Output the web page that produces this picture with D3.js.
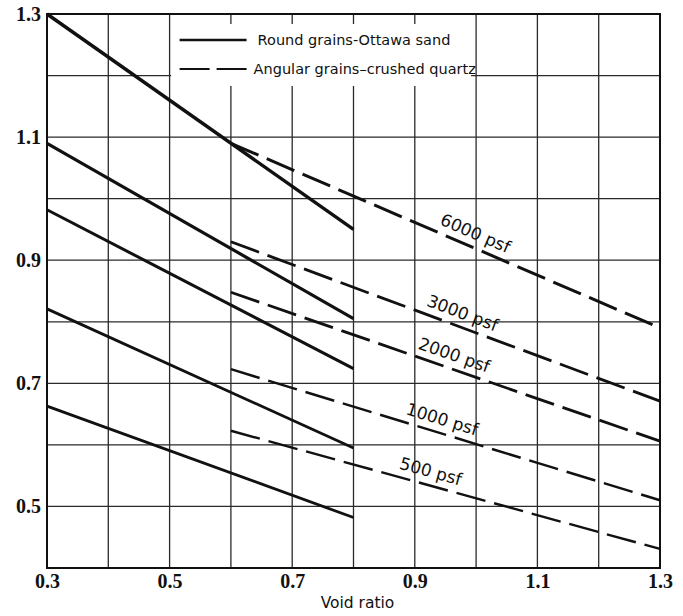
<!DOCTYPE html>
<html>
<head>
<meta charset="utf-8">
<script src="https://cdn.jsdelivr.net/npm/d3@7/dist/d3.min.js"></script>
<style>
  html, body { margin: 0; padding: 0; background: #fff; }
  svg { display: block; }
</style>
</head>
<body>
<script>
// Friction vs. void ratio for round and angular grains at several normal pressures
const loads = ["6000 psf", "3000 psf", "2000 psf", "1000 psf", "500 psf"];

// Round grains (Ottawa sand): straight lines from e = 0.3 to e = 0.8
const roundX = [0.3, 0.8];
const roundStart = [1.30, 1.09, 0.982, 0.821, 0.663];
const roundEnd   = [0.95, 0.805, 0.724, 0.595, 0.482];

// Angular grains (crushed quartz): straight lines from e = 0.6 to e = 1.3
const angularX = [0.6, 1.3];
const angularStart = [1.09, 0.93, 0.848, 0.723, 0.623];
const angularEnd   = [0.79, 0.671, 0.606, 0.51, 0.431];

// void ratio at which each pressure label sits along its angular line
const labelAt = [0.99, 0.97, 0.957, 0.938, 0.92];

const xTicks = [0.3, 0.5, 0.7, 0.9, 1.1, 1.3];
const yTicks = [0.5, 0.7, 0.9, 1.1, 1.3];
const xGrid = d3.range(3, 14).map(d => d / 10);
const yGrid = d3.range(4, 14).map(d => d / 10);

const legendItems = ["Round grains-Ottawa sand", "Angular grains\u2013crushed quartz"];
const xTitle = "Void ratio";

const W = 683, H = 616;
const m = { left: 47, top: 14, right: 23, bottom: 48 };
const iw = W - m.left - m.right, ih = H - m.top - m.bottom;

const x = d3.scaleLinear().domain([0.3, 1.3]).range([0, iw]);
const y = d3.scaleLinear().domain([0.4, 1.3]).range([ih, 0]);

const svg = d3.select("body").append("svg").attr("width", W).attr("height", H);
const g = svg.append("g").attr("transform", `translate(${m.left},${m.top})`);

// grid
g.append("g").selectAll("line").data(xGrid).join("line")
  .attr("x1", d => x(d)).attr("x2", d => x(d)).attr("y1", 0).attr("y2", ih)
  .attr("stroke", "#2a2a2a").attr("stroke-width", 1.3);
g.append("g").selectAll("line").data(yGrid).join("line")
  .attr("y1", d => y(d)).attr("y2", d => y(d)).attr("x1", 0).attr("x2", iw)
  .attr("stroke", "#2a2a2a").attr("stroke-width", 1.3);

// legend panel blanks the grid behind it
const lg = g.append("g");
lg.append("rect").attr("x", x(0.5) + 1.5).attr("y", 10).attr("width", 300).attr("height", 62)
  .attr("fill", "#fff");

// frame
g.append("rect").attr("x", 0).attr("y", 0).attr("width", iw).attr("height", ih)
  .attr("fill", "none").attr("stroke", "#111").attr("stroke-width", 2);

const line = d3.line().x(d => x(d[0])).y(d => y(d[1]));

const roundW = [3.4, 3.2, 3, 2.8, 2.8];
const angW = [3, 2.8, 2.8, 2.5, 2.4];

loads.forEach((name, i) => {
  g.append("path")
    .datum([[roundX[0], roundStart[i]], [roundX[1], roundEnd[i]]])
    .attr("d", line).attr("fill", "none").attr("stroke", "#111")
    .attr("stroke-width", roundW[i]);
  g.append("path")
    .datum([[angularX[0], angularStart[i]], [angularX[1], angularEnd[i]]])
    .attr("d", line).attr("fill", "none").attr("stroke", "#111")
    .attr("stroke-width", angW[i]).attr("stroke-dasharray", "30,9");

  // pressure label, rotated to the angular line
  const slope = (angularEnd[i] - angularStart[i]) / (angularX[1] - angularX[0]);
  const v = angularStart[i] + slope * (labelAt[i] - angularX[0]);
  const px = x(labelAt[i]), py = y(v);
  const ang = Math.atan2(y(angularEnd[i]) - y(angularStart[i]), x(angularX[1]) - x(angularX[0])) * 180 / Math.PI;
  g.append("text")
    .attr("transform", `translate(${px},${py}) rotate(${ang})`)
    .attr("y", -8).attr("text-anchor", "middle")
    .attr("font-family", "DejaVu Sans, sans-serif").attr("font-size", 17)
    .attr("fill", "#111").text(name);
});

// legend contents
const lx0 = x(0.5) + 10, lx1 = lx0 + 67;
const ly = [26, 55];
lg.append("line").attr("x1", lx0).attr("x2", lx1).attr("y1", ly[0]).attr("y2", ly[0])
  .attr("stroke", "#111").attr("stroke-width", 2.4);
lg.append("line").attr("x1", lx0).attr("x2", lx1).attr("y1", ly[1]).attr("y2", ly[1])
  .attr("stroke", "#111").attr("stroke-width", 2.2).attr("stroke-dasharray", "30,7");
legendItems.forEach((t, i) => {
  lg.append("text").attr("x", lx1 + 9 + (i === 0 ? 2 : -2)).attr("y", ly[i]).attr("dy", "0.36em")
    .attr("font-family", "DejaVu Sans, sans-serif").attr("font-size", 14.5)
    .attr("fill", "#111").text(t);
});

// axes
const fmt = d3.format(".1f");
const xAxis = g.append("g").attr("transform", `translate(0,${ih})`)
  .call(d3.axisBottom(x).tickValues(xTicks).tickFormat(fmt).tickSize(0).tickPadding(6));
const yAxis = g.append("g")
  .call(d3.axisLeft(y).tickValues(yTicks).tickFormat(fmt).tickSize(0).tickPadding(6));
[xAxis, yAxis].forEach(a => {
  a.select(".domain").remove();
  a.selectAll("text").attr("font-family", "Liberation Serif, serif").attr("font-weight", "bold")
    .attr("font-size", 20).attr("fill", "#111");
});

svg.append("text").attr("x", m.left + iw / 2 + 4).attr("y", 608).attr("text-anchor", "middle")
  .attr("font-family", "DejaVu Sans, sans-serif").attr("font-size", 15.5).attr("fill", "#111")
  .text(xTitle);
</script>
</body>
</html>
